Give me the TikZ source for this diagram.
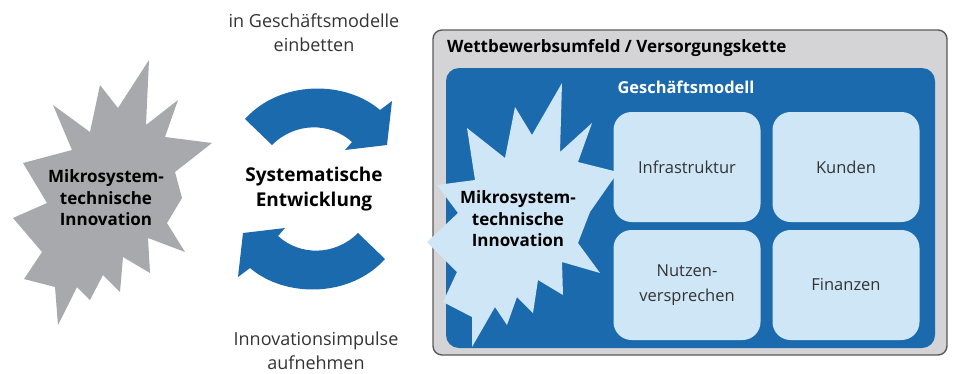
\documentclass[tikz,border=0pt]{standalone}
\usepackage{fontspec}
\setmainfont{Open Sans}
\definecolor{mblue}{HTML}{1B6AAE}
\definecolor{lblue}{HTML}{CFE6F6}
\definecolor{burstgray}{HTML}{A7A9AC}
\definecolor{envgray}{HTML}{D4D4D6}
\definecolor{envline}{HTML}{5A5A5A}
\definecolor{txtgray}{HTML}{333333}
\tikzset{
  envbox/.style={draw=envline, line width=1.4pt, fill=envgray, rounded corners=9pt, inner sep=0pt},
  bluebox/.style={fill=mblue, rounded corners=13pt, inner sep=0pt},
  cellbox/.style={fill=lblue, rounded corners=18pt, inner sep=0pt, minimum width=147pt, minimum height=110pt, align=center, text=txtgray, font=\fontsize{16.5}{25}\selectfont},
  burstlabel/.style={align=center, font=\bfseries\fontsize{17}{21.5}\selectfont, text=black, inner sep=0pt},
  sidelabel/.style={align=center, font=\fontsize{18}{24}\selectfont, text=txtgray, inner sep=0pt},
  midlabel/.style={align=center, font=\bfseries\fontsize{19}{25}\selectfont, text=black, inner sep=0pt},
  cyclearrow/.style={fill=mblue},
}
\begin{document}
\begin{tikzpicture}[x=1pt,y=-1pt]
\useasboundingbox (0,0) rectangle (954,373);

% left starburst
\fill[burstgray] (149,60) -- (146,125) -- (178,100) -- (165,137) -- (212,143) -- (175,172) -- (182,198) -- (167,223) -- (185,252) -- (148,238) -- (150,273) -- (123,257) -- (120,292) -- (103,275) -- (90,300) -- (77,287) -- (58,325) -- (55,287) -- (24,279) -- (42,252) -- (13,218) -- (47,203) -- (23,163) -- (72,150) -- (53,105) -- (90,132) -- (100,85) -- (118,108) -- cycle;
\node[burstlabel] (innovL) at (106,198) {Mikrosystem-\\technische\\Innovation};

% cycle arrows
\fill[cyclearrow] (245,119) .. controls (280,80) and (345,80) .. (380,110) -- (392,101) -- (387,145) -- (345,150) -- (352,142) .. controls (330,122) and (295,122) .. (272,145) -- cycle;
\fill[cyclearrow] (385,259) .. controls (350,298) and (285,298) .. (250,268) -- (238,277) -- (243,233) -- (285,228) -- (278,236) .. controls (300,256) and (335,256) .. (358,233) -- cycle;

\node[sidelabel] (embed) at (314,33) {in Geschäftsmodelle\\einbetten};
\node[sidelabel] (impulse) at (316,351) {Innovationsimpulse\\aufnehmen};
\node[midlabel] (sysdev) at (314,189) {Systematische\\Entwicklung};

% environment box
\node[envbox, minimum width=514pt, minimum height=325pt] (env) at (690,192.5) {};
\node[anchor=west, font=\bfseries\fontsize{17}{20}\selectfont, inner sep=0pt] (envlabel) at (447,48) {Wettbewerbsumfeld / Versorgungskette};
\node[bluebox, minimum width=489pt, minimum height=280pt] (bm) at (690.5,208) {};
\node[font=\bfseries\fontsize{16.4}{20}\selectfont, text=white, inner sep=0pt] (bmlabel) at (686,87) {Geschäftsmodell};

\node[cellbox] (infra) at (687,167) {Infrastruktur};
\node[cellbox] (kunden) at (846,167) {Kunden};
\node[cellbox] (nutzen) at (687,285) {Nutzen-\\versprechen};
\node[cellbox] (finanzen) at (846,285) {Finanzen};

% right starburst
\fill[lblue] (562,83) -- (560,152) -- (592,123) -- (578,162) -- (618,172) -- (590,212) -- (578,243) -- (600,273) -- (562,262) -- (563,295) -- (538,280) -- (533,313) -- (517,297) -- (507,325) -- (495,307) -- (472,347) -- (472,317) -- (443,302) -- (457,272) -- (427,242) -- (458,213) -- (437,185) -- (475,180) -- (467,128) -- (505,158) -- (515,107) -- (532,135) -- cycle;
\node[burstlabel] (innovR) at (518,219) {Mikrosystem-\\technische\\Innovation};
\end{tikzpicture}
\end{document}
